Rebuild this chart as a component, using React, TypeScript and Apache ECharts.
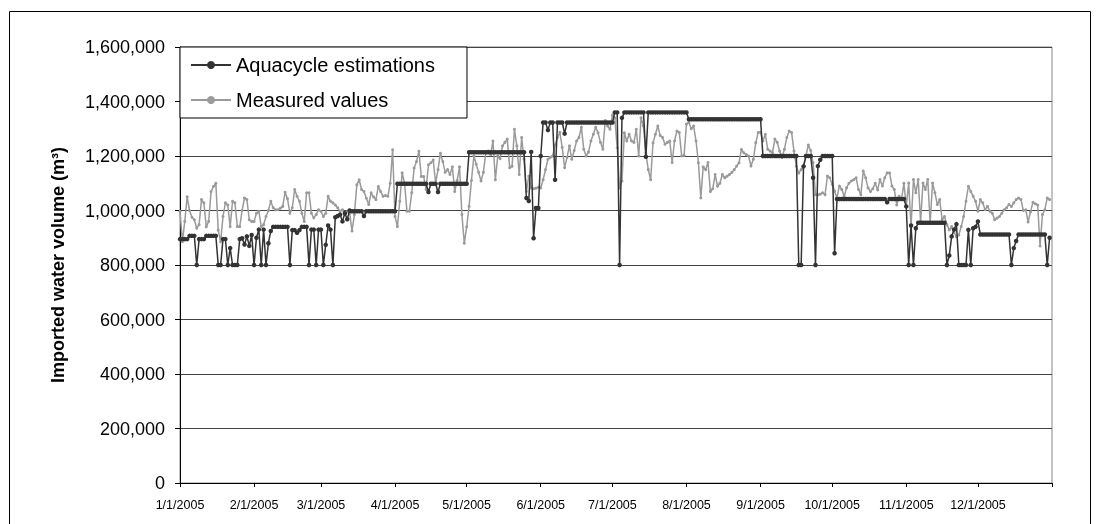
import React, { useEffect, useRef } from 'react';
import * as echarts from 'echarts';

// X axis: day-of-year positions of month starts and their labels
const monthStartDays = [0, 31, 59, 90, 120, 151, 181, 212, 243, 273, 304, 334];
const yearEndDay = 365;
const monthLabels = ['1/1/2005', '2/1/2005', '3/1/2005', '4/1/2005', '5/1/2005', '6/1/2005',
  '7/1/2005', '8/1/2005', '9/1/2005', '10/1/2005', '11/1/2005', '12/1/2005'];

// Y axis ticks
const yTicks = [0, 200000, 400000, 600000, 800000, 1000000, 1200000, 1400000, 1600000];

// Aquacycle estimations, daily, thousands of m3
const estJan = [895, 895, 895, 895, 907, 907, 907, 800, 895, 895, 895, 907, 907, 907, 907, 907, 800, 800, 895, 895, 800, 862, 800, 800, 800, 895, 898, 875, 905, 870, 910];
const estFeb = [800, 900, 930, 800, 930, 800, 880, 925, 940, 940, 940, 940, 940, 940, 940, 800, 928, 928, 918, 928, 940, 940, 940, 800, 930, 930, 800, 930];
const estMar = [930, 800, 874, 945, 930, 800, 975, 980, 985, 960, 990, 968, 1000, 997, 997, 997, 997, 997, 980, 997, 997, 997, 997, 997, 997, 997, 997, 997, 997, 997, 997];
const estApr = [997, 1098, 1098, 1098, 1098, 1098, 1098, 1098, 1098, 1098, 1098, 1098, 1098, 1098, 1068, 1098, 1098, 1098, 1068, 1098, 1098, 1098, 1098, 1098, 1098, 1098, 1098, 1098, 1098, 1098];
const estMay = [1098, 1214, 1214, 1214, 1214, 1214, 1214, 1214, 1214, 1214, 1214, 1214, 1214, 1214, 1214, 1214, 1214, 1214, 1214, 1214, 1214, 1214, 1214, 1214, 1214, 1046, 1035, 1215, 898, 1009, 1009];
const estJun = [1200, 1323, 1323, 1295, 1323, 1323, 1113, 1323, 1323, 1323, 1282, 1323, 1323, 1323, 1323, 1323, 1323, 1323, 1323, 1323, 1323, 1323, 1323, 1323, 1323, 1323, 1323, 1323, 1323, 1323];
const estJul = [1323, 1360, 1360, 800, 1340, 1360, 1360, 1360, 1360, 1360, 1360, 1360, 1360, 1360, 1197, 1360, 1360, 1360, 1360, 1360, 1360, 1360, 1360, 1360, 1360, 1360, 1360, 1360, 1360, 1360, 1360];
const estAug = [1360, 1335, 1335, 1335, 1335, 1335, 1335, 1335, 1335, 1335, 1335, 1335, 1335, 1335, 1335, 1335, 1335, 1335, 1335, 1335, 1335, 1335, 1335, 1335, 1335, 1335, 1335, 1335, 1335, 1335, 1335];
const estSep = [1335, 1200, 1200, 1200, 1200, 1200, 1200, 1200, 1200, 1200, 1200, 1200, 1200, 1200, 1200, 1200, 800, 800, 1162, 1200, 1200, 1200, 1120, 800, 1163, 1186, 1200, 1200, 1200, 1200];
const estOct = [1200, 843, 1042, 1042, 1042, 1042, 1042, 1042, 1042, 1042, 1042, 1042, 1042, 1042, 1042, 1042, 1042, 1042, 1042, 1042, 1042, 1042, 1042, 1030, 1042, 1042, 1042, 1042, 1042, 1042, 1042];
const estNov = [1015, 800, 945, 800, 935, 955, 955, 955, 955, 955, 955, 955, 955, 955, 955, 955, 955, 800, 835, 905, 930, 950, 800, 800, 800, 800, 929, 800, 935, 940];
const estDec = [960, 912, 912, 912, 912, 912, 912, 912, 912, 912, 912, 912, 912, 912, 800, 862, 888, 912, 912, 912, 912, 912, 912, 912, 912, 912, 912, 912, 912, 800, 900];

// Measured values, daily, thousands of m3
const measJan = [997, 885, 960, 1050, 1000, 975, 966, 935, 948, 1040, 1028, 940, 960, 1070, 1088, 1100, 928, 885, 978, 1028, 1020, 941, 1034, 1028, 941, 941, 1000, 1046, 1040, 966, 960];
const measFeb = [960, 990, 997, 941, 948, 978, 1000, 1034, 1010, 1003, 1003, 1008, 1015, 1067, 1043, 990, 1010, 1077, 1052, 1034, 990, 960, 1065, 1065, 990, 973, 985, 1003];
const measMar = [997, 978, 990, 1052, 1034, 1028, 1020, 1010, 997, 1003, 985, 995, 990, 925, 985, 1094, 1113, 1077, 1070, 1045, 1022, 1065, 1050, 1040, 1088, 1070, 1052, 1055, 1052, 1100, 1223];
const measApr = [978, 941, 1034, 1138, 1100, 997, 997, 1065, 1156, 1180, 1217, 1125, 1125, 1077, 1168, 1175, 1185, 1100, 1150, 1210, 1180, 1140, 1150, 1132, 1160, 1070, 1110, 1160, 985, 880];
const measMay = [940, 1015, 1110, 1200, 1170, 1140, 1108, 1140, 1212, 1218, 1205, 1255, 1113, 1200, 1190, 1237, 1250, 1262, 1157, 1162, 1298, 1237, 1132, 1268, 1188, 1070, 1126, 1083, 1080, 1082, 1085];
const measJun = [1083, 1113, 1150, 1188, 1195, 1200, 1240, 1268, 1287, 1231, 1157, 1195, 1237, 1188, 1220, 1255, 1268, 1305, 1225, 1200, 1215, 1255, 1280, 1305, 1285, 1250, 1225, 1330, 1310, 1298];
const measJul = [1350, 1340, 1230, 1083, 1108, 1285, 1255, 1280, 1255, 1250, 1298, 1200, 1340, 1310, 1210, 1150, 1113, 1248, 1280, 1310, 1275, 1268, 1243, 1250, 1255, 1176, 1255, 1292, 1286, 1200, 1203];
const measAug = [1317, 1323, 1300, 1310, 1255, 1175, 1046, 1160, 1150, 1176, 1070, 1080, 1132, 1089, 1100, 1132, 1120, 1126, 1132, 1140, 1150, 1163, 1175, 1224, 1212, 1205, 1200, 1163, 1188, 1249, 1286];
const measSep = [1287, 1255, 1280, 1225, 1218, 1212, 1262, 1250, 1218, 1195, 1225, 1268, 1292, 1286, 1218, 1162, 1138, 1150, 1162, 1200, 1240, 1220, 1176, 1058, 1058, 1060, 1065, 1058, 1126, 1120];
const measOct = [1096, 1071, 1046, 1090, 1077, 1052, 1083, 1100, 1108, 1113, 1120, 1077, 1058, 1145, 1120, 1083, 1070, 1080, 1100, 1075, 1114, 1090, 1120, 1138, 1138, 1090, 1077, 1020, 1052, 1040, 1100];
const measNov = [1015, 1101, 941, 1114, 1065, 1114, 960, 1101, 1077, 1114, 954, 1101, 1065, 1022, 1040, 966, 978, 948, 929, 941, 920, 904, 910, 941, 978, 1034, 1089, 1070, 1052, 1034];
const measDec = [997, 1040, 1028, 1003, 1015, 997, 990, 966, 972, 978, 990, 1003, 1010, 1022, 1015, 1028, 1040, 1046, 1040, 1000, 1003, 958, 995, 1030, 1025, 1020, 870, 985, 1003, 1046, 1040];

const estimatedK = [...estJan, ...estFeb, ...estMar, ...estApr, ...estMay, ...estJun, ...estJul, ...estAug, ...estSep, ...estOct, ...estNov, ...estDec];
const measuredK = [...measJan, ...measFeb, ...measMar, ...measApr, ...measMay, ...measJun, ...measJul, ...measAug, ...measSep, ...measOct, ...measNov, ...measDec];

const seriesNames = ['Aquacycle estimations', 'Measured values'];

export default function App() {
  const ref = useRef<HTMLDivElement>(null);
  useEffect(() => {
    if (!ref.current) return;
    const chart = echarts.init(ref.current, null, { renderer: 'svg' });
    const font = '"Liberation Sans", Arial, sans-serif';
    chart.setOption({
      animation: false,
      textStyle: { fontFamily: font },
      grid: {
        left: 180, right: 47, top: 47, bottom: 41,
        show: true, borderColor: '#888', borderWidth: 1, backgroundColor: 'transparent',
      },
      graphic: [
        {
          type: 'rect', silent: true, z: 0,
          shape: { x: 9.5, y: 11.5, width: 1081, height: 540 },
          style: { fill: 'none', stroke: '#000', lineWidth: 1 },
        },
      ],
      legend: {
        data: seriesNames,
        left: 180, top: 47, orient: 'vertical',
        backgroundColor: '#fff', borderColor: '#000', borderWidth: 1, borderRadius: 0,
        padding: [8, 32, 8, 10], itemGap: 15, itemWidth: 40, itemHeight: 10,
        textStyle: { fontSize: 20, color: '#000', fontFamily: font },
        z: 10,
      },
      xAxis: {
        type: 'value', min: 0, max: yearEndDay,
        axisLine: { show: true, lineStyle: { color: '#000', width: 1 } },
        axisTick: { show: true, length: 4, lineStyle: { color: '#000' }, customValues: [...monthStartDays, yearEndDay] },
        axisLabel: {
          customValues: monthStartDays,
          formatter: (v: number) => monthLabels[monthStartDays.indexOf(v)] ?? '',
          fontSize: 12.5, color: '#000', margin: 15, fontFamily: font,
        },
        splitLine: { show: false },
      },
      yAxis: {
        type: 'value', min: 0, max: 1600000, interval: 200000,
        axisLine: { show: true, lineStyle: { color: '#000', width: 1 } },
        axisTick: { show: true, length: 5, lineStyle: { color: '#000' } },
        axisLabel: {
          fontSize: 18, color: '#000', margin: 15, fontFamily: font,
          formatter: (v: number) => (yTicks.includes(v) ? v.toLocaleString('en-US') : ''),
        },
        splitLine: { show: true, lineStyle: { color: '#444', width: 1 } },
        name: 'Imported water volume (m³)',
        nameLocation: 'middle', nameGap: 113,
        nameTextStyle: { fontSize: 18, fontWeight: 'bold', color: '#000', fontFamily: font },
      },
      series: [
        {
          name: seriesNames[0], type: 'line',
          data: estimatedK.map((v, d) => [d, v * 1000]),
          symbol: 'circle', symbolSize: 4.5, showSymbol: true,
          lineStyle: { color: '#333', width: 1.5 },
          itemStyle: { color: '#333' },
          emphasis: { disabled: true }, z: 3,
        },
        {
          name: seriesNames[1], type: 'line',
          data: measuredK.map((v, d) => [d, v * 1000]),
          symbol: 'circle', symbolSize: 3, showSymbol: true,
          lineStyle: { color: '#9a9a9a', width: 1.5 },
          itemStyle: { color: '#9a9a9a' },
          emphasis: { disabled: true }, z: 2,
        },
      ],
    });
    return () => chart.dispose();
  }, []);
  return <div ref={ref} style={{ position: 'fixed', left: 0, top: 0, width: 1099, height: 524 }} />;
}
